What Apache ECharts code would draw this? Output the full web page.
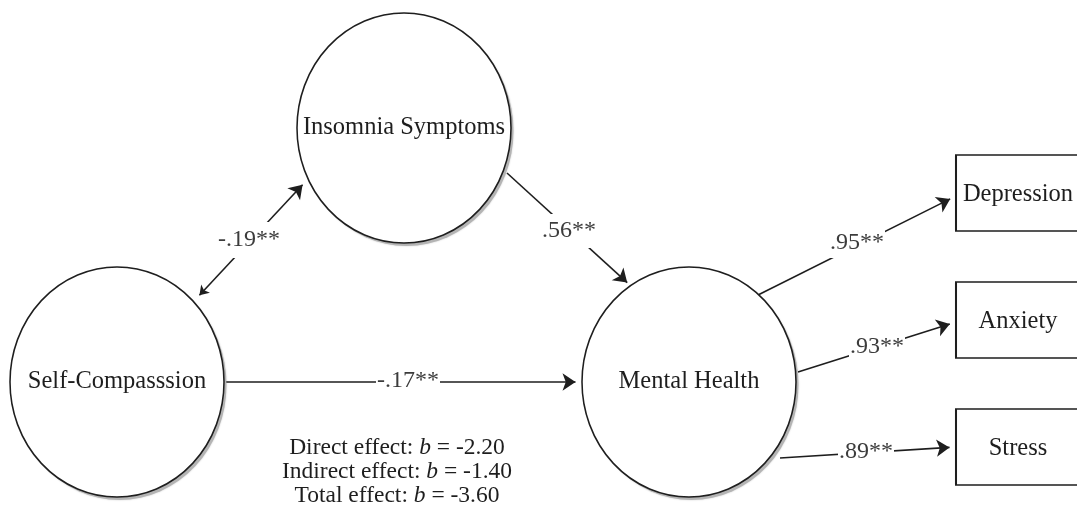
<!DOCTYPE html>
<html><head><meta charset="utf-8">
<script src="https://cdn.jsdelivr.net/npm/echarts@6/dist/echarts.min.js"></script>
<style>html,body{margin:0;padding:0;background:#fff}#c{width:1077px;height:517px}</style>
</head><body><div id="c"></div>
<script>
// ---------------- data ----------------
const latentNames = ['Insomnia Symptoms', 'Self-Compasssion', 'Mental Health'];
const indicatorNames = ['Depression', 'Anxiety', 'Stress'];
const pathCoefs = ['-.19**', '.56**', '-.17**', '.95**', '.93**', '.89**'];
const pathTwoWay = [true, false, false, false, false, false];
const effectNames = ['Direct effect', 'Indirect effect', 'Total effect'];
const effectB = ['-2.20', '-1.40', '-3.60'];

// ---------------- layout (positions in pixel units of the hidden axes) ----------------
const nodeCenter = {
  'Insomnia Symptoms': [404, 128],
  'Self-Compasssion': [117, 382],
  'Mental Health': [689, 382],
  'Depression': [1018, 193],
  'Anxiety': [1018, 320],
  'Stress': [1018, 447]
};
const ellipseSize = [214, 230];
const boxSize = [124, 76];
// path start/tip points, in the same order as pathCoefs
const pathEnds = [
  [[195, 300], [307, 180]],
  [[507, 173], [632, 287]],
  [[224, 382], [582, 382]],
  [[758, 295], [956, 196]],
  [[798, 372], [956, 322]],
  [[780, 458], [956, 447]]
];
const pathLabelPos = [[249, 240], [569, 231], [408, 381], [857, 243], [877, 347], [866, 452]];
const labelPad = [[6, 2], [5, 2], [2, 1], [3, 1], [2, 1], [2, 1]];
const effectPos = [397, 472];

const FONT = 'Liberation Serif';
const ARROW = [9, 13];

function shorten(p, q, d) { // move q toward p by d
  const dx = q[0] - p[0], dy = q[1] - p[1];
  const L = Math.hypot(dx, dy);
  return [q[0] - dx / L * d, q[1] - dy / L * d];
}

const oneWay = [], twoWay = [];
pathEnds.forEach((e, i) => {
  const a = e[0], b = e[1];
  const bb = shorten(a, b, ARROW[1] / 2);
  const aa = pathTwoWay[i] ? shorten(b, a, ARROW[1] / 2) : a;
  (pathTwoWay[i] ? twoWay : oneWay).push({ coords: [aa, bb] });
});

const chart = echarts.init(document.getElementById('c'), null, { renderer: 'canvas' });
chart.setOption({
  animation: false,
  backgroundColor: '#fff',
  grid: { left: 0, right: 0, top: 0, bottom: 0 },
  xAxis: { type: 'value', min: 0, max: 1077, show: false },
  yAxis: { type: 'value', min: 0, max: 517, inverse: true, show: false },
  series: [
    {
      type: 'lines', coordinateSystem: 'cartesian2d', z: 2, silent: true,
      symbol: ['none', 'arrow'], symbolSize: ARROW,
      lineStyle: { color: '#1e1e1e', width: 1.6, opacity: 1, curveness: 0 },
      data: oneWay
    },
    {
      type: 'lines', coordinateSystem: 'cartesian2d', z: 2, silent: true,
      symbol: ['arrow', 'arrow'], symbolSize: ARROW,
      lineStyle: { color: '#1e1e1e', width: 1.6, opacity: 1, curveness: 0 },
      data: twoWay
    },
    { // soft drop shadow under the latent ellipses
      type: 'scatter', z: 3, silent: true,
      symbol: 'circle', symbolSize: ellipseSize, symbolOffset: [2.5, 3],
      itemStyle: { color: '#b4b4b4', opacity: 1, shadowColor: 'rgba(0,0,0,0.2)', shadowBlur: 2 },
      data: latentNames.map(n => ({ name: n, value: nodeCenter[n] }))
    },
    {
      type: 'scatter', z: 4, silent: true,
      symbol: 'circle', symbolSize: ellipseSize,
      itemStyle: { color: '#ffffff', opacity: 1, borderColor: '#1e1e1e', borderWidth: 1.6 },
      label: { show: true, position: 'inside', formatter: '{b}', color: '#1e1e1e', fontFamily: FONT, fontSize: 24.5 },
      data: latentNames.map(n => ({ name: n, value: nodeCenter[n] }))
    },
    {
      type: 'scatter', z: 4, silent: true,
      symbol: 'rect', symbolSize: boxSize,
      itemStyle: { color: '#ffffff', opacity: 1, borderColor: '#1e1e1e', borderWidth: 1.6 },
      label: { show: true, position: 'inside', formatter: '{b}', color: '#1e1e1e', fontFamily: FONT, fontSize: 24.5, offset: [0, 2] },
      data: indicatorNames.map(n => ({ name: n, value: nodeCenter[n] }))
    },
    {
      type: 'scatter', z: 5, silent: true,
      symbolSize: 1, itemStyle: { color: 'rgba(0,0,0,0)', opacity: 1 },
      label: { show: true, position: 'inside', formatter: '{b}', color: '#3c3c3c', fontFamily: FONT, fontSize: 24,
        backgroundColor: '#ffffff', opacity: 1 },
      data: pathCoefs.map((c, i) => ({ name: c, value: pathLabelPos[i], label: { padding: labelPad[i] } }))
    },
    {
      type: 'scatter', z: 5, silent: true,
      symbolSize: 1, itemStyle: { color: 'rgba(0,0,0,0)', opacity: 1 },
      label: {
        show: true, position: 'inside', align: 'center', verticalAlign: 'middle',
        color: '#1e1e1e', fontFamily: FONT, fontSize: 23.5, lineHeight: 24,
        formatter: () => effectNames.map((n, i) => n + ': {i|b} = ' + effectB[i]).join('\n'),
        rich: { i: { fontStyle: 'italic', fontFamily: FONT, fontSize: 23.5, color: '#1e1e1e', lineHeight: 24 } }
      },
      data: [{ name: 'effects', value: effectPos }]
    }
  ]
});
</script></body></html>
